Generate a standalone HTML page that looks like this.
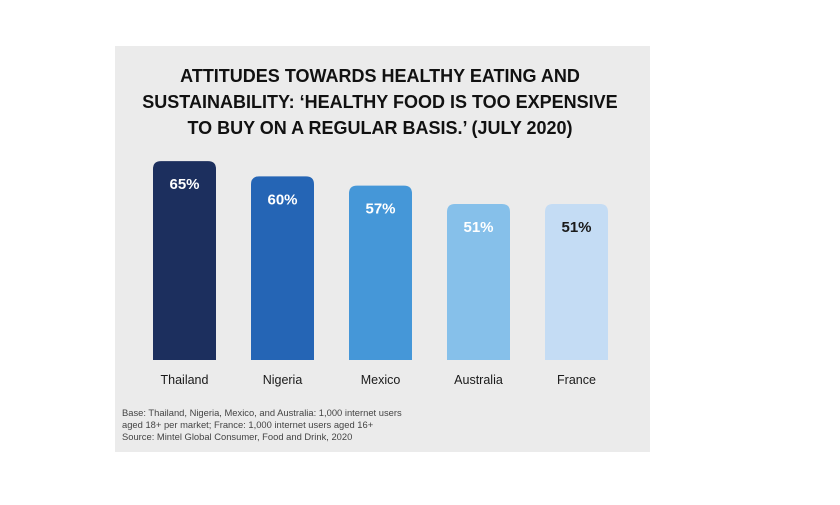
<!DOCTYPE html>
<html><head><meta charset="utf-8"><style>
body{margin:0;width:840px;height:500px;background:#fff;font-family:"Liberation Sans",sans-serif;overflow:hidden}
</style></head><body>
<svg width="840" height="500">
<rect x="115" y="46" width="535" height="406" fill="#ebebeb"/>
<g font-weight="bold" font-size="18" text-anchor="middle" fill="#111">
<text x="380" y="82">ATTITUDES TOWARDS HEALTHY EATING AND</text>
<text x="380" y="108">SUSTAINABILITY: ‘HEALTHY FOOD IS TOO EXPENSIVE</text>
<text x="380" y="134">TO BUY ON A REGULAR BASIS.’ (JULY 2020)</text>
</g>
<g id="bars"></g>
<g font-size="9.4" fill="#444">
<text x="122" y="416">Base: Thailand, Nigeria, Mexico, and Australia: 1,000 internet users</text>
<text x="122" y="428">aged 18+ per market; France: 1,000 internet users aged 16+</text>
<text x="122" y="440">Source: Mintel Global Consumer, Food and Drink, 2020</text>
</g>
</svg>
<script>
const categories=["Thailand","Nigeria","Mexico","Australia","France"];
const values=[65,60,57,51,51];
const colors=["#1c2f5e","#2565b5","#4597d8","#86c0ea","#c4dcf4"];
const labelColors=["#fff","#fff","#fff","#fff","#1a1a1a"];
const NS="http://www.w3.org/2000/svg";
const g=document.getElementById("bars");
const base=360, k=3.06;
const xPos=i=>153+i*98, bw=63;
const yPos=v=>base-v*k;
categories.forEach((c,i)=>{
  const y=yPos(values[i]);
  const r=document.createElementNS(NS,"path");
  const x=xPos(i), rr=8;
  r.setAttribute("d",`M${x},${base}V${y+rr}Q${x},${y} ${x+rr},${y}H${x+bw-rr}Q${x+bw},${y} ${x+bw},${y+rr}V${base}Z`);
  r.setAttribute("fill",colors[i]);
  
  
  g.appendChild(r);
  const t=document.createElementNS(NS,"text");
  t.setAttribute("x",x+bw/2);t.setAttribute("y",y+28);
  t.setAttribute("text-anchor","middle");t.setAttribute("font-weight","bold");
  t.setAttribute("font-size","15");t.setAttribute("fill",labelColors[i]);
  t.textContent=values[i]+"%";
  
  
  g.appendChild(t);
  const l=document.createElementNS(NS,"text");
  l.setAttribute("x",x+bw/2);l.setAttribute("y",384);
  l.setAttribute("text-anchor","middle");l.setAttribute("font-size","12.5");l.setAttribute("fill","#1a1a1a");
  l.textContent=c;
  
  
  g.appendChild(l);
});
</script>
</body></html>
